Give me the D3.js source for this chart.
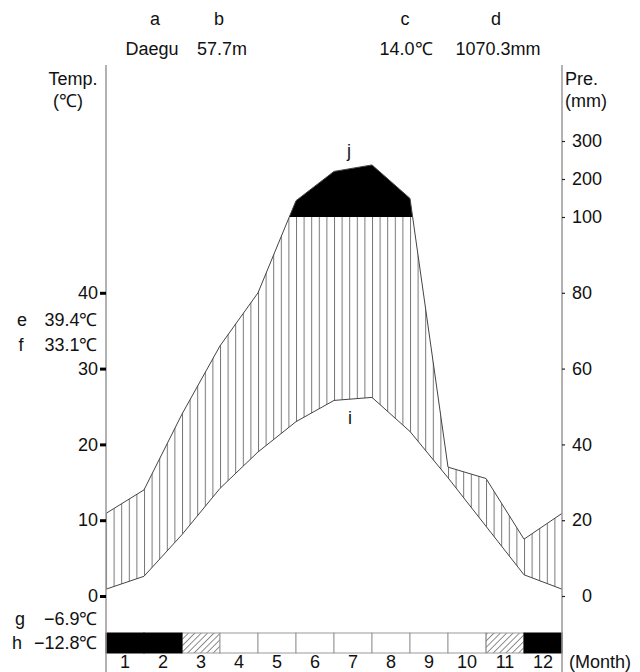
<!DOCTYPE html>
<html><head><meta charset="utf-8">
<script src="https://cdn.jsdelivr.net/npm/d3@7"></script>
<style>
body{margin:0;background:#fff}
text{font-family:"Liberation Sans",Arial,sans-serif;font-size:18px;fill:#111}
</style>
</head><body>
<svg id="chart" width="640" height="672"></svg>
<script>
// ---- data ----
const months = ["1","2","3","4","5","6","7","8","9","10","11","12"];
const temperature = [0.9, 2.6, 8.1, 14.2, 19.0, 23.0, 25.8, 26.2, 21.7, 15.6, 9.2, 2.8];
const precipitation = [21.8, 28, 48, 66, 80, 143, 220, 237, 149, 34, 31, 15];
const frostType = ["frost","frost","probable","none","none","none","none","none","none","none","probable","frost"];
const tempTicks = [0, 10, 20, 30, 40];
const precTicks = [0, 20, 40, 60, 80, 100, 200, 300];
const headerLetters = ["a","b","c","d"];
const headerValues = ["Daegu","57.7m","14.0℃","1070.3mm"];
const sideLetters = ["e","f","g","h"];
const sideValues = ["39.4℃","33.1℃","−6.9℃","−12.8℃"];

// ---- layout ----
const svg = d3.select("#chart");
const x = d3.scaleLinear().domain([0, 12]).range([106, 562]);
const yT = d3.scaleLinear().domain([0, 50]).range([596, 217]);
const yP = d3.scaleLinear().domain([0, 100, 300]).range([596, 217, 141]);

const pts = d3.range(13).map(i => ({i, t: temperature[i % 12], p: precipitation[i % 12]}));

const defs = svg.append("defs");
const step = (x(1) - x(0)) / 5;
const vp = defs.append("pattern").attr("id","vlines").attr("patternUnits","userSpaceOnUse")
  .attr("x", x(0)).attr("y", 0).attr("width", step).attr("height", 20);
vp.append("line").attr("x1",0.5).attr("x2",0.5).attr("y1",0).attr("y2",20)
  .attr("stroke","#777").attr("stroke-width",1);
const dp = defs.append("pattern").attr("id","diag").attr("patternUnits","userSpaceOnUse")
  .attr("width",4.5).attr("height",4.5).attr("patternTransform","rotate(45)");
dp.append("line").attr("x1",0).attr("x2",0).attr("y1",0).attr("y2",4.5)
  .attr("stroke","#444").attr("stroke-width",1.2);

defs.append("clipPath").attr("id","above").append("rect")
  .attr("x", x(0)).attr("y", 0).attr("width", x(12)-x(0)).attr("height", yP(100));
defs.append("clipPath").attr("id","below").append("rect")
  .attr("x", x(0)).attr("y", yP(100)).attr("width", x(12)-x(0)).attr("height", 672 - yP(100));

// black area (precipitation > 100 mm)
svg.append("path").datum(pts).attr("clip-path","url(#above)")
  .attr("fill","#000")
  .attr("d", d3.area().x(d => x(d.i)).y0(yP(100)).y1(d => yP(d.p)));
// humid hatching
svg.append("path").datum(pts).attr("clip-path","url(#below)")
  .attr("fill","url(#vlines)")
  .attr("d", d3.area().x(d => x(d.i)).y0(d => yT(d.t)).y1(d => yP(d.p)));
// lines
svg.append("path").datum(pts).attr("fill","none").attr("stroke","#444").attr("stroke-width",1)
  .attr("d", d3.line().x(d => x(d.i)).y(d => yT(d.t)));
svg.append("path").datum(pts).attr("fill","none").attr("stroke","#444").attr("stroke-width",1)
  .attr("d", d3.line().x(d => x(d.i)).y(d => yP(d.p)));

// frost bar
const barTop = 633, barH = 20;
const cellData = frostType.map((d, i) => ({d, i}));
const cells = svg.append("g");
cells.selectAll("rect.w").data(cellData.filter(o => o.d !== "frost")).join("rect")
  .attr("x", o => x(o.i)).attr("y", barTop)
  .attr("width", x(1) - x(0)).attr("height", barH)
  .attr("fill", o => o.d === "probable" ? "url(#diag)" : "#fff")
  .attr("stroke", "#999").attr("stroke-width", 1);
cells.selectAll("rect.b").data(cellData.filter(o => o.d === "frost")).join("rect")
  .attr("x", o => x(o.i)).attr("y", barTop)
  .attr("width", x(1) - x(0)).attr("height", barH)
  .attr("fill", "#000").attr("stroke", "#000").attr("stroke-width", 1);

// month labels
svg.append("g").selectAll("text").data(months).join("text")
  .attr("x", (d, i) => x(i + 0.5)).attr("y", 668).attr("text-anchor","middle").text(d => d);
svg.append("text").attr("x", 569).attr("y", 668).text("(Month)");

// axis lines
[x(0), x(12)].forEach(v => svg.append("line").attr("x1", v).attr("x2", v)
  .attr("y1", 65).attr("y2", 672).attr("stroke","#999").attr("stroke-width",1.5));

// left axis
const la = svg.append("g").attr("transform", `translate(${x(0)},0)`)
  .call(d3.axisLeft(yT).tickValues(tempTicks).tickSize(6).tickPadding(2).tickFormat(d3.format("d")));
la.select(".domain").remove();
la.attr("font-size",null).attr("font-family",null);
la.selectAll(".tick line").attr("stroke","#000").attr("stroke-width",3);
la.selectAll(".tick text").attr("fill","#111");

// right axis
const ra = svg.append("g").attr("transform", `translate(${x(12)},0)`)
  .call(d3.axisRight(yP).tickValues(precTicks).tickSize(3).tickPadding(7).tickFormat(d3.format("d")));
ra.select(".domain").remove();
ra.attr("font-size",null).attr("font-family",null);
ra.selectAll(".tick line").attr("stroke","#222").attr("stroke-width",1.2);
ra.selectAll(".tick text").attr("fill","#111")
  .attr("text-anchor", d => d >= 100 ? "start" : "end")
  .attr("x", d => d >= 100 ? 10 : 30);

// axis titles
svg.append("text").attr("x", 73).attr("y", 85).attr("text-anchor","middle").text("Temp.");
svg.append("text").attr("x", 68).attr("y", 107).attr("text-anchor","middle").text("(℃)");
svg.append("text").attr("x", 565).attr("y", 85).text("Pre.");
svg.append("text").attr("x", 565).attr("y", 107).text("(mm)");

// header
const letterX = [155, 219, 405, 496];
const valueX = [152, 222, 406, 498];
svg.append("g").selectAll("text").data(headerLetters).join("text")
  .attr("x", (d, i) => letterX[i]).attr("y", 25).attr("text-anchor","middle").text(d => d);
svg.append("g").selectAll("text").data(headerValues).join("text")
  .attr("x", (d, i) => valueX[i]).attr("y", 55).attr("text-anchor","middle").text(d => d);

// side labels
const sideY = [326, 351, 625, 649];
const sideLX = [22, 21, 20, 17];
svg.append("g").selectAll("text").data(sideLetters).join("text")
  .attr("x", (d, i) => sideLX[i]).attr("y", (d, i) => sideY[i]).attr("text-anchor","middle").text(d => d);
svg.append("g").selectAll("text").data(sideValues).join("text")
  .attr("x", 97.5).attr("y", (d, i) => sideY[i]).attr("text-anchor","end").text(d => d);

// curve labels
svg.append("text").attr("x", 350).attr("y", 424).attr("text-anchor","middle").text("i");
svg.append("text").attr("x", 349).attr("y", 157).attr("text-anchor","middle").text("j");
</script>
</body></html>
